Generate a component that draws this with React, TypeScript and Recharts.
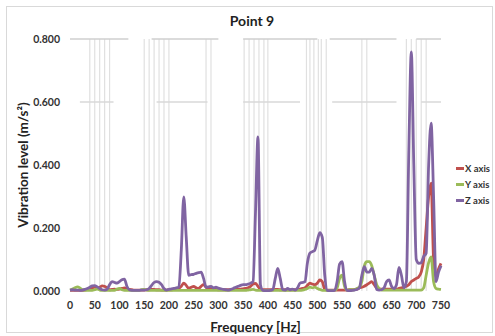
import React from "react";
import { LineChart, Line, XAxis, YAxis, ReferenceLine, Label } from "recharts";

// frequency grid, 5 Hz steps
const freqs = [
  0, 5, 10, 15, 20, 25, 30, 35, 40, 45,
  50, 55, 60, 65, 70, 75, 80, 85, 90, 95,
  100, 105, 110, 115, 120, 125, 130, 135, 140, 145,
  150, 155, 160, 165, 170, 175, 180, 185, 190, 195,
  200, 205, 210, 215, 220, 225, 230, 235, 240, 245,
  250, 255, 260, 265, 270, 275, 280, 285, 290, 295,
  300, 305, 310, 315, 320, 325, 330, 335, 340, 345,
  350, 355, 360, 365, 370, 375, 380, 385, 390, 395,
  400, 405, 410, 415, 420, 425, 430, 435, 440, 445,
  450, 455, 460, 465, 470, 475, 480, 485, 490, 495,
  500, 505, 510, 515, 520, 525, 530, 535, 540, 545,
  550, 555, 560, 565, 570, 575, 580, 585, 590, 595,
  600, 605, 610, 615, 620, 625, 630, 635, 640, 645,
  650, 655, 660, 665, 670, 675, 680, 685, 690, 695,
  700, 705, 710, 715, 720, 725, 730, 735, 740, 745,
  750,
];

const xAxisVals = [
  0.002, 0.002, 0.002, 0.002, 0.002, 0.002, 0.003, 0.004, 0.006, 0.01,
  0.012, 0.01, 0.012, 0.016, 0.015, 0.01, 0.004, 0.005, 0.006, 0.005,
  0.006, 0.008, 0.01, 0.008, 0.005, 0.004, 0.003, 0.003, 0.003, 0.003,
  0.003, 0.004, 0.004, 0.005, 0.005, 0.004, 0.004, 0.003, 0.003, 0.003,
  0.004, 0.004, 0.005, 0.006, 0.008, 0.015, 0.025, 0.018, 0.008, 0.012,
  0.015, 0.01, 0.008, 0.015, 0.02, 0.012, 0.006, 0.005, 0.005, 0.005,
  0.004, 0.004, 0.004, 0.004, 0.004, 0.005, 0.005, 0.005, 0.006, 0.006,
  0.007, 0.008, 0.01, 0.015, 0.022, 0.024, 0.015, 0.005, 0.004, 0.004,
  0.004, 0.004, 0.004, 0.005, 0.005, 0.004, 0.004, 0.004, 0.004, 0.004,
  0.004, 0.004, 0.005, 0.006, 0.008, 0.01, 0.018, 0.025, 0.022, 0.02,
  0.025, 0.035, 0.03, 0.005, 0.003, 0.003, 0.003, 0.003, 0.003, 0.003,
  0.003, 0.003, 0.003, 0.004, 0.004, 0.005, 0.006, 0.01, 0.012, 0.015,
  0.02, 0.025, 0.03, 0.02, 0.01, 0.006, 0.006, 0.006, 0.006, 0.006,
  0.006, 0.006, 0.006, 0.008, 0.01, 0.012, 0.015, 0.02, 0.03, 0.035,
  0.04, 0.045, 0.06, 0.1, 0.2, 0.3, 0.342, 0.1, 0.045, 0.07,
  0.088,
];

const yAxisVals = [
  0.003, 0.006, 0.01, 0.013, 0.01, 0.004, 0.002, 0.002, 0.002, 0.002,
  0.004, 0.006, 0.003, 0.002, 0.002, 0.002, 0.002, 0.002, 0.002, 0.006,
  0.008, 0.004, 0.002, 0.002, 0.002, 0.002, 0.002, 0.002, 0.002, 0.004,
  0.005, 0.003, 0.002, 0.002, 0.002, 0.002, 0.002, 0.002, 0.002, 0.002,
  0.002, 0.002, 0.002, 0.002, 0.002, 0.002, 0.002, 0.002, 0.002, 0.002,
  0.002, 0.002, 0.002, 0.002, 0.002, 0.002, 0.002, 0.002, 0.002, 0.002,
  0.002, 0.002, 0.002, 0.002, 0.002, 0.002, 0.002, 0.002, 0.002, 0.002,
  0.002, 0.002, 0.003, 0.004, 0.005, 0.003, 0.002, 0.002, 0.002, 0.002,
  0.002, 0.002, 0.002, 0.002, 0.002, 0.002, 0.002, 0.002, 0.002, 0.002,
  0.002, 0.002, 0.002, 0.002, 0.003, 0.005, 0.008, 0.012, 0.01, 0.012,
  0.008, 0.005, 0.002, 0.002, 0.002, 0.002, 0.002, 0.002, 0.01, 0.04,
  0.05, 0.015, 0.003, 0.004, 0.004, 0.004, 0.008, 0.012, 0.03, 0.08,
  0.093, 0.093, 0.08, 0.05, 0.02, 0.008, 0.003, 0.003, 0.003, 0.003,
  0.003, 0.003, 0.003, 0.003, 0.003, 0.003, 0.003, 0.003, 0.003, 0.003,
  0.003, 0.003, 0.003, 0.01, 0.05, 0.09, 0.108, 0.03, 0.008, 0.006,
  0.005,
];

const zAxisVals = [
  0.003, 0.004, 0.003, 0.003, 0.002, 0.003, 0.005, 0.008, 0.012, 0.016,
  0.017, 0.013, 0.008, 0.004, 0.003, 0.006, 0.02, 0.03, 0.027, 0.025,
  0.03, 0.036, 0.038, 0.015, 0.004, 0.002, 0.002, 0.002, 0.002, 0.003,
  0.003, 0.004, 0.008, 0.018, 0.027, 0.03, 0.028, 0.02, 0.008, 0.003,
  0.005, 0.007, 0.008, 0.01, 0.012, 0.13, 0.299, 0.17, 0.05, 0.052,
  0.053, 0.056, 0.058, 0.06, 0.04, 0.012, 0.013, 0.015, 0.01, 0.012,
  0.009, 0.007, 0.005, 0.004, 0.003, 0.005, 0.008, 0.012, 0.015, 0.018,
  0.02, 0.02, 0.022, 0.025, 0.03, 0.25, 0.489, 0.02, 0.002, 0.001,
  0.001, 0.002, 0.005, 0.04, 0.072, 0.04, 0.005, 0.003, 0.008, 0.004,
  0.006, 0.003, 0.01, 0.025, 0.027, 0.03, 0.09, 0.12, 0.125, 0.13,
  0.16, 0.185, 0.17, 0.05, 0.002, 0.001, 0.001, 0.002, 0.03, 0.085,
  0.093, 0.03, 0.002, 0.001, 0.002, 0.003, 0.005, 0.01, 0.05, 0.077,
  0.06, 0.06, 0.072, 0.05, 0.005, 0.003, 0.004, 0.01, 0.03, 0.035,
  0.015, 0.008, 0.02, 0.075, 0.05, 0.01, 0.03, 0.45, 0.759, 0.4,
  0.1, 0.088, 0.09, 0.11, 0.12, 0.4, 0.533, 0.3, 0.03, 0.06,
  0.08,
];

const xTicks = [0, 50, 100, 150, 200, 250, 300, 350, 400, 450, 500, 550, 600, 650, 700, 750];
const yTicks = [0, 0.2, 0.4, 0.6, 0.8];

// faint vertical lines seen in the plot
const vLines = [
  40, 50, 60, 70, 80, 150, 160, 170, 180, 190, 200, 275, 285,
  352, 362, 372, 382, 392, 400, 478, 485, 493, 502, 508, 518,
  590, 600, 680, 690, 700, 710, 720,
];
// broken horizontal gridline pieces [from, to] at 0.8 and 0.6
const top8 = [[0, 118], [165, 300], [350, 500], [525, 660], [700, 750]];
const top6 = [[20, 88], [175, 278], [350, 465], [530, 660], [710, 750]];

const series = [
  { name: "X axis", key: "x", color: "#C0504D" },
  { name: "Y axis", key: "y", color: "#9BBB59" },
  { name: "Z axis", key: "z", color: "#8064A2" },
];

const data = freqs.map((f, i) => ({ f, x: xAxisVals[i], y: yAxisVals[i], z: zAxisVals[i] }));

const font = "Lato, 'Open Sans', sans-serif";

export default function App() {
  return (
    <div style={{ position: "absolute", left: 0, top: 0, width: 495, height: 336, background: "#fff", fontFamily: font }}>
      <div style={{ position: "absolute", left: 6, top: 6, width: 485, height: 325, border: "1px solid #d9d9d9" }} />
      <div style={{ position: "absolute", left: 0, width: 495, top: 12, textAlign: "center", fontSize: 14, fontWeight: 700, color: "#222" }}>
        <span style={{ marginLeft: 9 }}>Point 9</span>
      </div>
      <LineChart width={495} height={336} data={data} margin={{ top: 39, right: 54, bottom: 0, left: 0 }} style={{ position: "absolute", left: 0, top: 0 }}>
        <XAxis
          dataKey="f"
          type="number"
          domain={[0, 750]}
          ticks={xTicks}
          height={45}
          axisLine={false}
          tickLine={false}
          tickSize={0}
          tickMargin={11}
          tick={{ fontSize: 10.5, fontWeight: 700, fill: "#333", fontFamily: font }}
        >
          <Label value="Frequency [Hz]" position="insideBottom" offset={4} style={{ fontSize: 13.5, fontWeight: 700, fill: "#222", fontFamily: font }} />
        </XAxis>
        <YAxis
          type="number"
          domain={[0, 0.8]}
          ticks={yTicks}
          width={70}
          axisLine={false}
          tickLine={false}
          tickSize={0}
          tickMargin={10}
          tickFormatter={(v: number) => v.toFixed(3)}
          tick={{ fontSize: 10.5, fontWeight: 700, fill: "#333", fontFamily: font }}
        >
          <Label
            value="Vibration level  (m/s²)"
            angle={-90}
            position="insideLeft"
            offset={23}
            style={{ fontSize: 13.5, fontWeight: 700, fill: "#222", textAnchor: "middle", fontFamily: font }}
          />
        </YAxis>
        {vLines.map((v) => (
          <ReferenceLine key={"v" + v} x={v} stroke="#e0e0e0" strokeWidth={1.2} />
        ))}
        {top8.map(([a, b]) => (
          <ReferenceLine key={"h8" + a} segment={[{ x: a, y: 0.8 }, { x: b, y: 0.8 }]} stroke="#cfcfcf" strokeWidth={1.5} />
        ))}
        {top6.map(([a, b]) => (
          <ReferenceLine key={"h6" + a} segment={[{ x: a, y: 0.6 }, { x: b, y: 0.6 }]} stroke="#d9d9d9" strokeWidth={1.5} />
        ))}
        {series.map((s) => (
          <Line
            key={s.key}
            dataKey={s.key}
            name={s.name}
            type="monotone"
            stroke={s.color}
            strokeWidth={2.8}
            dot={false}
            isAnimationActive={false}
          />
        ))}
      </LineChart>
      <div style={{ position: "absolute", left: 456, top: 160 }}>
        {series.map((s) => (
          <div key={s.key} style={{ display: "flex", alignItems: "center", height: 16, fontSize: 9.5, fontWeight: 700, color: "#333" }}>
            <span style={{ display: "inline-block", width: 8, height: 3, background: s.color, marginRight: 1 }} />
            {s.name}
          </div>
        ))}
      </div>
    </div>
  );
}
